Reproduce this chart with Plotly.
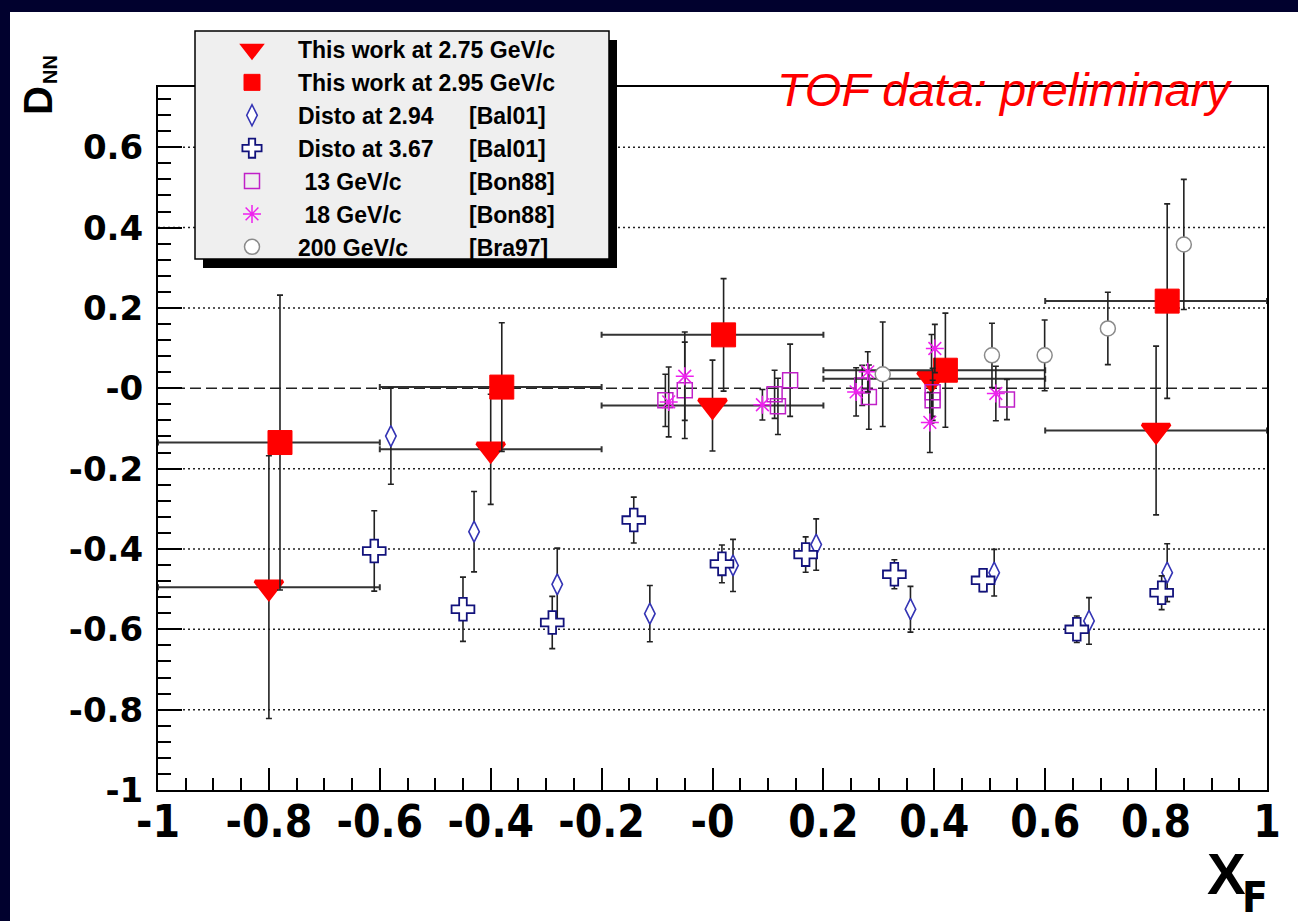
import plotly.graph_objects as go

# ---- data: D_NN vs x_F ----
bin_lo = [-1.0, -0.6, -0.2, 0.2, 0.6]
bin_hi = [-0.6, -0.2, 0.2, 0.6, 1.0]

tw275_x = [-0.80, -0.40, 0.00, 0.395, 0.80]
tw275_y = [-0.495, -0.152, -0.043, 0.024, -0.105]
tw275_err = [0.327, 0.137, 0.113, 0.110, 0.210]

tw295_x = [-0.78, -0.38, 0.02, 0.42, 0.82]
tw295_y = [-0.135, 0.003, 0.133, 0.045, 0.217]
tw295_err = [0.367, 0.160, 0.140, 0.142, 0.242]

disto294_x = [-0.58, -0.43, -0.28, -0.113, 0.037, 0.187, 0.357, 0.508, 0.679, 0.820]
disto294_y = [-0.119, -0.357, -0.488, -0.561, -0.441, -0.389, -0.550, -0.459, -0.579, -0.459]
disto294_err = [0.12, 0.10, 0.09, 0.07, 0.065, 0.064, 0.057, 0.058, 0.058, 0.072]

disto367_x = [-0.61, -0.45, -0.289, -0.142, 0.017, 0.168, 0.328, 0.488, 0.657, 0.810]
disto367_y = [-0.405, -0.550, -0.583, -0.328, -0.437, -0.414, -0.463, -0.478, -0.600, -0.509]
disto367_err = [0.10, 0.08, 0.065, 0.057, 0.047, 0.044, 0.036, 0.028, 0.033, 0.042]

bon13_x = [-0.085, -0.05, 0.112, 0.118, 0.14, 0.270, 0.282, 0.397, 0.397, 0.531]
bon13_y = [-0.03, -0.005, -0.015, -0.045, 0.02, 0.007, -0.022, -0.01, -0.03, -0.028]
bon13_err = [0.065, 0.12, 0.06, 0.07, 0.09, 0.05, 0.08, 0.06, 0.05, 0.05]

bon18_x = [-0.079, -0.05, 0.090, 0.259, 0.280, 0.392, 0.401, 0.511]
bon18_y = [-0.034, 0.03, -0.041, -0.009, 0.041, -0.085, 0.099, -0.013]
bon18_err = [0.087, 0.11, 0.038, 0.06, 0.05, 0.075, 0.06, 0.068]

bra97_x = [0.307, 0.504, 0.599, 0.713, 0.850]
bra97_y = [0.035, 0.082, 0.082, 0.149, 0.358]
bra97_err = [0.13, 0.08, 0.088, 0.09, 0.162]

x_ticks = [-1.0, -0.8, -0.6, -0.4, -0.2, 0.0, 0.2, 0.4, 0.6, 0.8, 1.0]
x_ticktext = ["-1", "-0.8", "-0.6", "-0.4", "-0.2", "-0", "0.2", "0.4", "0.6", "0.8", "1"]
y_ticks = [-1.0, -0.8, -0.6, -0.4, -0.2, 0.0, 0.2, 0.4, 0.6]
y_ticktext = ["-1", "-0.8", "-0.6", "-0.4", "-0.2", "-0", "0.2", "0.4", "0.6"]

legend_refs = ["", "", "[Bal01]", "[Bal01]", "[Bon88]", "[Bon88]", "[Bra97]"]

# ---- page geometry ----
W, H = 1298, 921
ML, MR, MT, MB = 158, 31, 87, 131
PW, PH = W - ML - MR, H - MT - MB


def fx(px):
    return (px - ML) / PW


def fy(py):
    return (H - MB - py) / PH


ERR = "#222222"
RED = "#ff0000"
NARROW = "DejaVu Sans Condensed, Liberation Sans, sans-serif"
LEG_FONT = 23
LEG_TOP = 28
LEG_ROW = LEG_FONT * 1.3 + 3

fig = go.Figure()


def bin_errors(xs):
    plus = [hi - x for x, hi in zip(xs, bin_hi)]
    minus = [x - lo for x, lo in zip(xs, bin_lo)]
    return plus, minus


p275, m275 = bin_errors(tw275_x)
p295, m295 = bin_errors(tw295_x)

fig.add_trace(go.Scatter(
    x=tw275_x, y=tw275_y, mode="markers", name="This work at 2.75 GeV/c",
    marker=dict(symbol="triangle-down", size=24, color=RED, line=dict(color=RED, width=3.5)),
    error_y=dict(type="data", array=tw275_err, color=ERR, thickness=1.6, width=3),
    error_x=dict(type="data", symmetric=False, array=p275, arrayminus=m275,
                 color="#333333", thickness=2, width=3),
))
fig.add_trace(go.Scatter(
    x=tw295_x, y=tw295_y, mode="markers", name="This work at 2.95 GeV/c",
    marker=dict(symbol="square", size=24, color=RED, line=dict(color=RED, width=1)),
    error_y=dict(type="data", array=tw295_err, color=ERR, thickness=1.6, width=3),
    error_x=dict(type="data", symmetric=False, array=p295, arrayminus=m295,
                 color="#333333", thickness=2, width=3),
))
fig.add_trace(go.Scatter(
    x=disto294_x, y=disto294_y, mode="markers", name="Disto at 2.94",
    marker=dict(symbol="diamond-tall", size=15, color="white", line=dict(color="#3434b4", width=1.6)),
    error_y=dict(type="data", array=disto294_err, color=ERR, thickness=1.6, width=3),
))
fig.add_trace(go.Scatter(
    x=disto367_x, y=disto367_y, mode="markers", name="Disto at 3.67",
    marker=dict(symbol="cross", size=19, color="white", line=dict(color="#12127c", width=1.8)),
    error_y=dict(type="data", array=disto367_err, color=ERR, thickness=1.6, width=3),
))
fig.add_trace(go.Scatter(
    x=bon13_x, y=bon13_y, mode="markers", name=" 13 GeV/c",
    marker=dict(symbol="square-open", size=15, color="#c020c8", line=dict(width=1.5)),
    error_y=dict(type="data", array=bon13_err, color=ERR, thickness=1.6, width=3),
))
fig.add_trace(go.Scatter(
    x=bon18_x, y=bon18_y, mode="markers", name=" 18 GeV/c",
    marker=dict(symbol="asterisk-open", size=15, color="#ee22ee", line=dict(color="#ee22ee", width=1.5)),
    error_y=dict(type="data", array=bon18_err, color=ERR, thickness=1.6, width=3),
))
fig.add_trace(go.Scatter(
    x=bra97_x, y=bra97_y, mode="markers", name="200 GeV/c",
    marker=dict(symbol="circle", size=15, color="white", line=dict(color="#8a8a8a", width=1.5)),
    error_y=dict(type="data", array=bra97_err, color=ERR, thickness=1.6, width=3),
))

shapes = [
    # white page inside the navy border
    dict(type="rect", xref="paper", yref="paper", x0=fx(10), x1=fx(W + 5), y0=fy(H + 5), y1=fy(12),
         fillcolor="white", line=dict(width=0), layer="below"),
]
# dotted horizontal grid at the labelled values, dashed line at zero
for v in y_ticks:
    if v == -1.0:
        continue
    shapes.append(dict(type="line", xref="paper", yref="y", x0=0, x1=1, y0=v, y1=v,
                       line=dict(color="#222222", width=1.5, dash="11px,5px" if v == 0 else "2px,3px"),
                       layer="below"))
# legend frame with drop shadow
shapes.append(dict(type="rect", xref="paper", yref="paper", x0=fx(203), x1=fx(617), y0=fy(268), y1=fy(40),
                   fillcolor="black", line=dict(width=0), layer="above"))
shapes.append(dict(type="rect", xref="paper", yref="paper", x0=fx(195), x1=fx(609), y0=fy(259), y1=fy(31),
                   fillcolor="#efefef", line=dict(color="black", width=1.5), layer="above"))

annotations = [
    dict(text="TOF data: preliminary", xref="paper", yref="paper", x=fx(775), y=fy(89),
         xanchor="left", yanchor="middle", showarrow=False,
         font=dict(family="Liberation Sans", size=47, color=RED, style="italic")),
    dict(text="X", xref="paper", yref="paper", x=fx(1226), y=fy(873), xanchor="center", yanchor="middle",
         showarrow=False, font=dict(family="Liberation Sans", size=58, color="black", weight="bold")),
    dict(text="F", xref="paper", yref="paper", x=fx(1255), y=fy(897), xanchor="center", yanchor="middle",
         showarrow=False, font=dict(family=NARROW, size=42, color="black", weight="bold")),
    dict(text="D", xref="paper", yref="paper", x=fx(38), y=fy(101), xanchor="center", yanchor="middle",
         textangle=-90, showarrow=False,
         font=dict(family="Liberation Sans", size=40, color="black", weight="bold")),
    dict(text="NN", xref="paper", yref="paper", x=fx(50), y=fy(70), xanchor="center", yanchor="middle",
         textangle=-90, showarrow=False,
         font=dict(family="Liberation Sans", size=20, color="black", weight="bold")),
]
for i, ref in enumerate(legend_refs):
    if ref:
        annotations.append(dict(text=ref, xref="paper", yref="paper", x=fx(467),
                                y=fy(LEG_TOP + LEG_ROW * (i + 0.5) + 6),
                                xanchor="left", yanchor="middle", showarrow=False,
                                font=dict(family="Liberation Sans", size=LEG_FONT, color="black",
                                          weight="bold")))

axis_common = dict(showline=True, linecolor="black", linewidth=2, mirror=True,
                   ticks="inside", tickcolor="black", tickwidth=1.5,
                   showgrid=False, zeroline=False, tickmode="array")

fig.update_layout(
    width=W, height=H, autosize=False,
    margin=dict(l=ML, r=MR, t=MT, b=MB),
    paper_bgcolor="#01012e", plot_bgcolor="white",
    showlegend=True,
    legend=dict(x=fx(206), y=fy(LEG_TOP), xanchor="left", yanchor="top",
                bgcolor="rgba(0,0,0,0)", borderwidth=0, tracegroupgap=0, itemwidth=82,
                font=dict(family="Liberation Sans", size=LEG_FONT, color="black", weight="bold")),
    xaxis=dict(range=[-1, 1], tickvals=x_ticks, ticktext=x_ticktext, ticklen=22,
               ticklabelstandoff=-8,
               tickfont=dict(family=NARROW, size=44, color="black", weight="bold"),
               minor=dict(tick0=-1, dtick=0.05, ticks="inside", ticklen=12, tickcolor="black", tickwidth=1.5),
               **axis_common),
    yaxis=dict(range=[-1, 0.75], tickvals=y_ticks, ticktext=y_ticktext, ticklen=24,
               ticklabelstandoff=6,
               tickfont=dict(family="DejaVu Sans", size=34, color="black", weight="bold"),
               minor=dict(tick0=-1, dtick=0.04, ticks="inside", ticklen=13, tickcolor="black", tickwidth=1.5),
               **axis_common),
    shapes=shapes,
    annotations=annotations,
)

fig.write_html("out.html")
